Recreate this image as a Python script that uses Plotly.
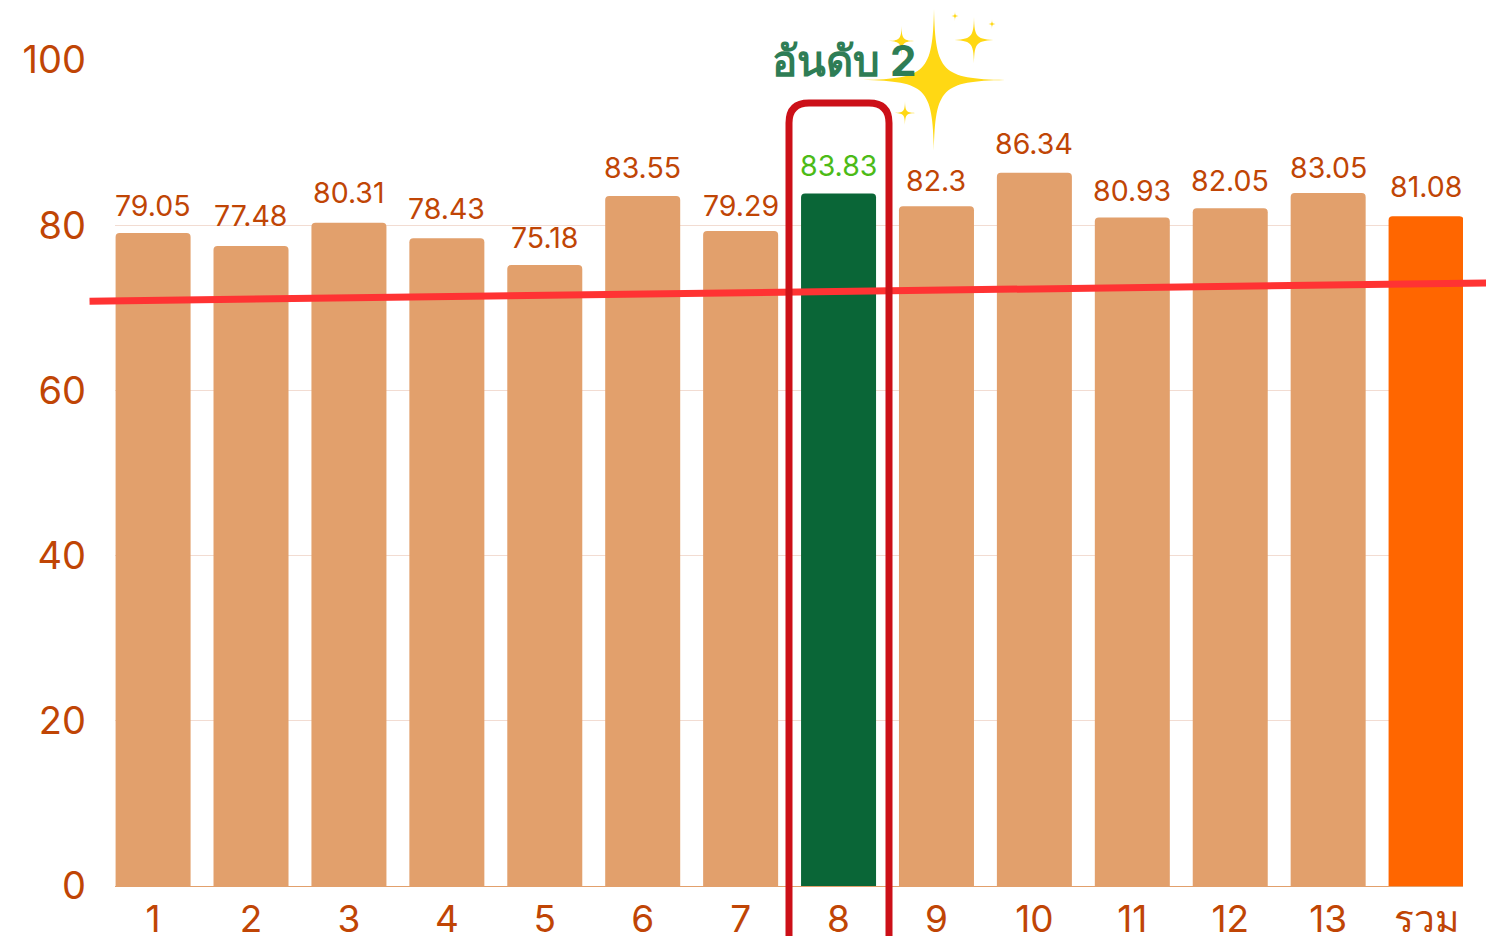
import plotly.graph_objects as go

categories = [str(i) for i in range(1, 14)] + ["รวม"]
bar_values = [79.05, 77.48, 80.31, 78.43, 75.18, 83.55, 79.29, 83.83, 82.3, 86.34, 80.93, 82.05, 83.9, 81.08]
value_labels = ["79.05", "77.48", "80.31", "78.43", "75.18", "83.55", "79.29", "83.83", "82.3", "86.34", "80.93", "82.05", "83.05", "81.08"]
label_shift = [8, 11, 11, 10, 8, 9, 6, 9, 6, 10, 8, 8, 6, 10]
trend_x = [0.351, 14.618]
trend_y = [70.8, 73.0]
y_ticks = [0, 20, 40, 60, 80, 100]

TAN, GREEN, ORANGE = "#e2a06c", "#0a6637", "#ff6600"
TEXT = "#c04505"
FONT = "Inter"
bar_colors = [TAN] * 14
bar_colors[7] = GREEN
bar_colors[13] = ORANGE
label_colors = [TEXT] * 14
label_colors[7] = "#4cbb17"

W, H = 1486, 936
L, R, T, B = 115, 1463, 60, 886
X_RANGE = [0.611, 14.377]
x_pos = list(range(1, 15))


def px(x):
    return (x - L) / (R - L)


def py(y):
    return (B - y) / (B - T)


def star(cx, cy, rx, ry):
    a, b = 0.02, 0.11
    d = f"M{px(cx)},{py(cy - ry)}"
    for sx, sy, end in [(1, -1, (cx + rx, cy)), (1, 1, (cx, cy + ry)), (-1, 1, (cx - rx, cy)), (-1, -1, (cx, cy - ry))]:
        if sx * sy < 0:
            c1 = (cx + sx * a * rx, cy + sy * b * ry)
            c2 = (cx + sx * b * rx, cy + sy * a * ry)
        else:
            c1 = (cx + sx * b * rx, cy + sy * a * ry)
            c2 = (cx + sx * a * rx, cy + sy * b * ry)
        d += f" C{px(c1[0])},{py(c1[1])} {px(c2[0])},{py(c2[1])} {px(end[0])},{py(end[1])}"
    return dict(type="path", xref="paper", yref="paper", path=d + " Z", fillcolor="#ffd814", line=dict(width=0), layer="above")


def box(x0, x1, top, bottom, r):
    return (f"M{px(x0)},{py(bottom)} L{px(x0)},{py(top + r)} Q{px(x0)},{py(top)} {px(x0 + r)},{py(top)} "
            f"L{px(x1 - r)},{py(top)} Q{px(x1)},{py(top)} {px(x1)},{py(top + r)} L{px(x1)},{py(bottom)}")


def x_paper(x):
    return (x - X_RANGE[0]) / (X_RANGE[1] - X_RANGE[0])


fig = go.Figure()
fig.add_trace(go.Bar(x=x_pos, y=bar_values, marker=dict(color=bar_colors, cornerradius=4, line=dict(width=0)),
                     width=75 / 97.92, hoverinfo="skip"))

annotations = [dict(x=x, y=v, text=t, showarrow=False, yanchor="bottom", yshift=s,
                    font=dict(family=FONT, size=28.5, color=c))
               for x, v, t, s, c in zip(x_pos, bar_values, value_labels, label_shift, label_colors)]
annotations.append(dict(xref="paper", yref="paper", x=px(844), y=py(60), text="<b>อันดับ 2</b>", showarrow=False,
                        xanchor="center", yanchor="middle",
                        font=dict(family=FONT, size=42, color="#2e7d55")))

shapes = [dict(type="line", xref="paper", yref="y", x0=x_paper(trend_x[0]), x1=x_paper(trend_x[1]),
               y0=trend_y[0], y1=trend_y[1], line=dict(color="#ff3333", width=7), layer="above")]
shapes.append(dict(type="path", xref="paper", yref="paper", path=box(789, 889, 103, 960, 20),
                   line=dict(color="#cc1018", width=7), layer="above"))
shapes += [star(*s) for s in [(934, 80, 71, 71), (901.5, 41, 15, 15), (905, 113, 12, 12), (974, 40, 23, 23), (955, 16, 5, 5), (992, 24, 5, 5)]]

fig.update_layout(
    width=W, height=H, showlegend=False, plot_bgcolor="white", paper_bgcolor="white",
    margin=dict(l=L, r=W - R, t=T, b=H - B, autoexpand=False),
    annotations=annotations, shapes=shapes,
    xaxis=dict(range=X_RANGE, tickmode="array", tickvals=x_pos, ticktext=categories, showgrid=False, zeroline=False,
               showline=True, linecolor=TAN, linewidth=1, ticks="", ticklabelstandoff=1,
               tickfont=dict(family=FONT, size=37, color=TEXT)),
    yaxis=dict(range=[0, 100], tickmode="array", tickvals=y_ticks, showgrid=True, gridcolor="#f2dcd2", gridwidth=1, zeroline=False,
               showline=False, ticks="", ticklabelstandoff=28,
               tickfont=dict(family=FONT, size=38, color=TEXT)),
)
fig.write_html("out.html", config=dict(displayModeBar=False),
               post_script="document.body.style.margin='0';document.body.style.overflow='hidden';")
